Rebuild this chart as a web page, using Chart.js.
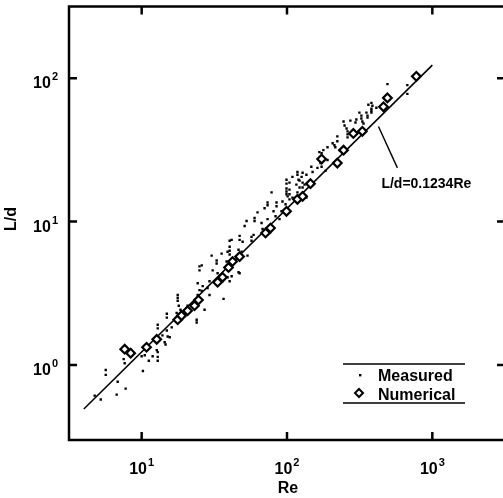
<!DOCTYPE html>
<html><head><meta charset="utf-8">
<script src="https://cdn.jsdelivr.net/npm/chart.js@4.4.1/dist/chart.umd.min.js"></script>
<style>
html,body{margin:0;padding:0;background:#fff;overflow:hidden;width:503px;height:498px}
#wrap{position:relative;width:515px;height:498px}
</style></head>
<body><div id="wrap"><canvas id="c" width="515" height="498"></canvas></div>
<script>
// ---- data ----
const measuredRe = [4.75,5.23,5.66,5.66,6.73,6.84,7.76,7.52,7.64,10.2,10.0,10.5,11.2,11.9,12.7,12.9,12.9,12.9,14.4,15.1,
  12.9,12.9,14.9,16.1,14.6,13.9,15.6,14.9,14.9,17.7,17.7,17.7,18.0,18.5,17.4,19.8,19.1,20.7,23.9,23.9,
  27.1,24.3,25.0,25.9,26.3,24.3,25.0,25.9,25.0,30.3,32.8,32.8,30.8,33.3,29.3,28.4,29.3,36.6,40.3,41.6,
  35.5,39.0,40.3,47.2,45.7,42.2,40.3,40.3,40.3,38.4,41.6,47.2,47.2,46.4,49.5,51.1,52.7,48.7,53.5,57.0,
  58.9,57.0,59.8,59.8,62.7,66.8,67.9,70.1,73.5,73.5,73.5,78.3,80.8,83.4,84.7,84.7,88.8,91.7,93.1,96.1,
  99.2,99.2,101,97.7,109,104,116,118,128,128,136,122,46.4,39.0,99.2,99.2,99.2,104,104,104,
  109,118,118,120,122,128,126,132,136,147,150,162,167,170,173,173,178,190,184,206,
  212,215,222,222,230,249,257,261,261,261,273,296,315,325,325,330,336,352,358,381,
  190,363,381,387,381,381,412,358,491,673,673,245,300];
const measuredLd = [0.612,0.575,0.924,0.854,0.622,0.764,0.684,1.10,1.03,0.909,1.15,1.17,1.07,1.15,1.27,1.23,1.14,1.07,1.44,1.58,
  1.91,1.80,1.74,1.83,1.39,1.61,1.56,2.28,2.14,3.08,2.93,2.80,2.59,2.43,2.31,2.39,2.21,2.59,2.07,1.98,
  2.43,3.08,3.33,3.28,3.55,3.72,4.87,4.95,4.57,5.79,5.35,5.11,4.57,4.36,3.84,3.44,3.08,2.89,3.84,4.16,
  5.98,6.17,5.89,4.36,5.53,5.53,7.35,6.68,6.27,5.27,7.46,7.95,7.46,6.37,7.23,9.31,10.1,6.17,5.79,7.83,
  8.08,7.35,10.6,10.1,11.6,9.77,8.88,12.4,13.6,13.0,10.4,16.0,11.8,10.9,13.6,12.8,10.4,11.8,13.8,11.6,
  16.2,15.5,15.0,13.2,14.7,18.7,18.1,16.0,17.3,18.7,14.7,19.3,4.43,4.09,19.6,18.4,17.0,16.7,15.5,14.3,
  20.5,22.2,21.2,19.6,17.3,21.9,20.5,18.1,21.2,24.1,22.2,23.7,30.5,25.6,24.1,30.0,31.5,26.9,22.6,35.2,
  34.1,33.0,39.3,36.3,31.5,46.8,44.6,42.6,40.6,38.7,50.6,49.1,57.5,54.8,52.3,49.9,48.3,57.5,54.8,59.3,
  33.0,65.3,67.3,64.2,61.2,57.5,62.2,53.1,91.0,89.5,77.7,49.9,51.5];
const numericalRe = [7.64,8.40,10.8,12.7,17.7,18.8,20.7,23.1,24.6,33.3,36.0,39.6,42.2,47.2,71.2,77.0,99.2,118,128,145,173,222,245,286,330,461,491,776];
const numericalLd = [1.29,1.21,1.33,1.51,2.07,2.21,2.39,2.59,2.84,3.78,4.09,4.79,5.27,5.70,8.34,9.02,11.8,14.3,15.0,18.4,27.3,25.6,31.5,41.2,42.6,63.2,72.9,103];
const fitRe = [4, 1000];
const fitLd = [0.4936, 123.4];
const calloutRe = [426, 575];
const calloutLd = [46.1, 23.7];
const xTickValues = [10, 100, 1000];
const yTickValues = [1, 10, 100];
const xRange = [3.1623, 3162.3];
const yRange = [0.31623, 316.23];
const xTitle = 'Re';
const yTitle = 'L/d';
const fitLabel = 'L/d=0.1234Re';
const seriesNames = ['Measured', 'Numerical'];

// ---- build ----
const pts = (xs, ys) => xs.map((v, i) => ({x: v, y: ys[i]}));
const FONT = '"Liberation Sans", Arial, Helvetica, sans-serif';

const deco = {
  id: 'deco',
  afterDraw(chart) {
    const ctx = chart.ctx, a = chart.chartArea, xs = chart.scales.x, ys = chart.scales.y;
    ctx.save();
    ctx.strokeStyle = '#000';
    ctx.lineWidth = 2.5;
    ctx.strokeRect(a.left, a.top, a.right - a.left, a.bottom - a.top);
    const T = 8;
    ctx.beginPath();
    xTickValues.forEach(v => {
      const px = xs.getPixelForValue(v);
      ctx.moveTo(px, a.bottom); ctx.lineTo(px, a.bottom - T);
      ctx.moveTo(px, a.top); ctx.lineTo(px, a.top + T);
    });
    yTickValues.forEach(v => {
      const py = ys.getPixelForValue(v);
      ctx.moveTo(a.left, py); ctx.lineTo(a.left + T, py);
      ctx.moveTo(a.right, py); ctx.lineTo(a.right - T, py);
    });
    ctx.stroke();

    ctx.fillStyle = '#000';
    const big = 'bold 16px ' + FONT, small = 'bold 11px ' + FONT;
    function pw(v, x, y, mode) {
      const e = String(Math.round(Math.log10(v)));
      ctx.font = big; const wb = ctx.measureText('10').width;
      ctx.font = small; const we = ctx.measureText(e).width;
      const gap = 1, tot = wb + gap + we;
      const sx = mode === 'right' ? x - tot : x - tot / 2;
      ctx.textAlign = 'left'; ctx.textBaseline = 'alphabetic';
      ctx.font = big; ctx.fillText('10', sx, y);
      ctx.font = small; ctx.fillText(e, sx + wb + gap, y - 8);
    }
    xTickValues.forEach(v => pw(v, xs.getPixelForValue(v), 474, 'center'));
    yTickValues.forEach(v => pw(v, 58, ys.getPixelForValue(v) + 10, 'right'));

    // axis titles
    ctx.font = big; ctx.textAlign = 'center'; ctx.textBaseline = 'alphabetic';
    ctx.fillText(xTitle, (a.left + a.right) / 2 + 1, 493);
    ctx.save();
    ctx.translate(16, 219); ctx.rotate(-Math.PI / 2);
    ctx.textBaseline = 'alphabetic';
    ctx.fillText(yTitle, 0, 0);
    ctx.restore();

    // fit label
    ctx.font = 'bold 14px ' + FONT; ctx.textAlign = 'left';
    const lx = xs.getPixelForValue(calloutRe[1]), ly = ys.getPixelForValue(calloutLd[1]);
    ctx.fillText(fitLabel, lx - 16, ly + 20);

    // legend
    ctx.lineWidth = 1.5;
    ctx.beginPath();
    ctx.moveTo(343, 364); ctx.lineTo(465, 364);
    ctx.moveTo(343, 403); ctx.lineTo(465, 403);
    ctx.stroke();
    ctx.fillRect(359, 374, 2.4, 2.4);
    ctx.lineWidth = 2;
    ctx.beginPath();
    ctx.moveTo(359, 389); ctx.lineTo(363, 393); ctx.lineTo(359, 397); ctx.lineTo(355, 393); ctx.closePath();
    ctx.fillStyle = '#fff'; ctx.fill(); ctx.stroke();
    ctx.fillStyle = '#000';
    ctx.font = big; ctx.textAlign = 'left';
    ctx.fillText(seriesNames[0], 378, 381);
    ctx.fillText(seriesNames[1], 378, 400);
    ctx.restore();
  }
};

new Chart(document.getElementById('c'), {
  type: 'scatter',
  data: {
    datasets: [
      {label: seriesNames[1], data: pts(numericalRe, numericalLd), pointStyle: 'rectRot', pointRadius: 4.3,
       borderColor: '#000', backgroundColor: '#fff', borderWidth: 2.2, order: 0},
      {label: 'fit', type: 'line', data: pts(fitRe, fitLd), borderColor: '#000', borderWidth: 1.6,
       pointRadius: 0, fill: false, order: 1},
      {label: 'callout', type: 'line', data: pts(calloutRe, calloutLd), borderColor: '#000', borderWidth: 1.4,
       pointRadius: 0, fill: false, order: 1},
      {label: seriesNames[0], data: pts(measuredRe, measuredLd), pointStyle: 'rect', pointRadius: 1.7,
       borderWidth: 0, backgroundColor: '#000', borderColor: '#000', order: 2}
    ]
  },
  options: {
    responsive: false, animation: false, devicePixelRatio: 1,
    layout: {padding: {top: 5, right: 10, left: 0, bottom: 0}},
    plugins: {legend: {display: false}, tooltip: {enabled: false}},
    scales: {
      x: {type: 'logarithmic', min: xRange[0], max: xRange[1],
          grid: {display: false}, border: {display: false}, ticks: {display: false},
          afterFit: s => { s.height = 58; }},
      y: {type: 'logarithmic', min: yRange[0], max: yRange[1],
          grid: {display: false}, border: {display: false}, ticks: {display: false},
          afterFit: s => { s.width = 69; }}
    }
  },
  plugins: [deco]
});
</script>
</body></html>
